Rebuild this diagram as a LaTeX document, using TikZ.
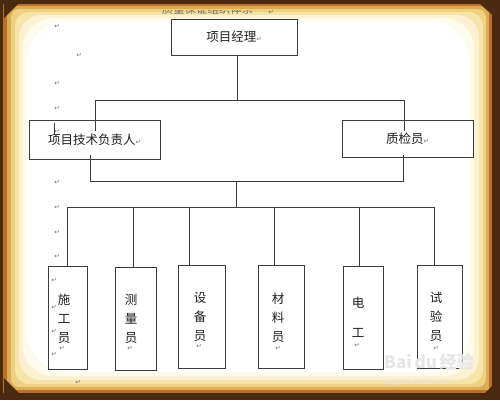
\documentclass[tikz,border=0pt]{standalone}
\usepackage{fontspec}
\setmainfont{Noto Sans CJK SC}
\newfontfamily\symfont{DejaVu Sans}
\definecolor{framedark}{HTML}{4A2A10}
\definecolor{frameorange}{HTML}{B8702A}
\definecolor{framegold}{HTML}{DDAA55}
\definecolor{frameyel}{HTML}{EFCF80}
\definecolor{framelt}{HTML}{F7E4A8}
\definecolor{framecream}{HTML}{FCF2D2}
\definecolor{frameivory}{HTML}{FEFAEC}
\definecolor{linegray}{HTML}{3C3C3C}
\definecolor{pmgray}{HTML}{707070}
\definecolor{txt}{HTML}{1E1E1E}
\definecolor{wmark}{HTML}{E6E6E6}
\newcommand\pmk{{\symfont\fontsize{6.5}{6.5}\selectfont\textcolor{pmgray}{↵}}}
\begin{document}
\begin{tikzpicture}[x=1pt,y=-1pt,
  box/.style={draw=linegray,line width=0.9pt,fill=white,inner sep=0pt,text=txt,font=\fontsize{12.5}{14}\selectfont},
  conn/.style={draw=linegray,line width=0.9pt},
  pmark/.style={inner sep=0pt,font=\symfont\fontsize{6.5}{6.5}\selectfont,text=pmgray},
  vtext/.style={inner sep=0pt,align=center,text=txt,font=\fontsize{12.5}{19}\selectfont},
  wm/.style={inner sep=0pt,text=wmark}]
\useasboundingbox (0,0) rectangle (500,400);
% parchment frame
\fill[framedark] (0,0) rectangle (500,400);
\fill[frameorange] (3,4) rectangle (492,393);
\fill[framegold] (7,6) rectangle (489,390);
\fill[frameyel,rounded corners=8] (11,9) rectangle (486,387);
\fill[framelt,rounded corners=14] (15,12) rectangle (483,384);
\fill[framecream,rounded corners=22] (19,15) rectangle (479,380);
\fill[frameivory,rounded corners=30] (23,18) rectangle (474,376);
\fill[white,rounded corners=38] (28,21) rectangle (469,372);
% corner ornaments
\fill[framedark] (4,378) -- (20,394) -- (4,394) -- cycle;
\fill[framedark] (480,4) -- (496,4) -- (496,18) -- cycle;
\fill[framedark] (482,396) -- (496,382) -- (496,396) -- cycle;
\fill[framedark] (4,4) -- (18,4) -- (4,18) -- cycle;
% clipped title
\begin{scope}
  \clip (150,10) rectangle (300,22);
  \node[inner sep=0pt,text=pmgray,font=\fontsize{11.4}{12}\selectfont] (title) at (207.5,9) {质量保证组织体系};
\end{scope}
\node[pmark] (pt) at (271,12) {↵};
% paragraph marks in the margin (outside boxes)
\foreach \i/\x/\y in {a/57/26,b/79/55,c/57/83,d/57/108,f/57/157,g/57/182,h/57/207,k/57/232,l/57/256,q/78/382}
  \node[pmark] (pm\i) at (\x,\y) {↵};
% upper boxes
\node[box,minimum width=126,minimum height=36] (pm) at (234,37) {项目经理\pmk};
\node[box,minimum width=131,minimum height=39] (tech) at (94.5,139.5) {项目技术负责人\pmk};
\node[box,minimum width=131,minimum height=37] (qc) at (407.5,138.5) {质检员\pmk};
% lower boxes
\node[box,minimum width=39,minimum height=103] (b1) at (68.2,317.5) {};
\node[box,minimum width=41.4,minimum height=103] (b2) at (136,318.5) {};
\node[box,minimum width=47.4,minimum height=103] (b3) at (202,316.8) {};
\node[box,minimum width=46,minimum height=103] (b4) at (281.3,316.8) {};
\node[box,minimum width=40,minimum height=103] (b5) at (363.3,317.5) {};
\node[box,minimum width=45,minimum height=103] (b6) at (439.5,316.7) {};
% margin marks that sit inside boxes
\node[pmark] (pme) at (57,131) {↵};
\foreach \i/\y in {m/280,n/307,o/331,p/354}
  \node[pmark] (pm\i) at (54,\y) {↵};
\draw[linegray,line width=0.5pt] (54,123) -- (54,134);
% texts of lower boxes
\node[vtext] (t1) at (64,319) {施\\工\\员};
\node[vtext] (t2) at (131,319) {测\\量\\员};
\node[vtext] (t3) at (200,316.5) {设\\备\\员};
\node[vtext] (t4) at (278,317.5) {材\\料\\员};
\node[vtext] (t5) at (358,317) {电\\[11pt]工};
\node[vtext] (t6) at (436,316.5) {试\\验\\员};
\foreach \n/\x/\y in {1/62/348,2/130/348,3/199/346,4/278/348,5/357/345,6/436/348}
  \node[pmark] (e\n) at (\x,\y) {↵};
% junction coordinates
\coordinate (j0) at (237,100);
\coordinate (jl) at (95,100);
\coordinate (jr) at (404,100);
\coordinate (jle) at (95,131);
\coordinate (jre) at (404,131);
\coordinate (ul) at (90.7,155);
\coordinate (ur) at (403,155);
\coordinate (ml) at (90.7,181);
\coordinate (mr) at (403,181);
\coordinate (mc) at (236,181);
\coordinate (bc) at (236,207);
\coordinate (v1) at (67,207);
\coordinate (v2) at (133,207);
\coordinate (v3) at (189.5,207);
\coordinate (v4) at (274,207);
\coordinate (v5) at (359,207);
\coordinate (v6) at (434,207);
% connectors
\draw[conn] (j0 |- pm.south) -- (j0);
\draw[conn] (jl) -- (jr);
\draw[conn] (jl) -- (jle);
\draw[conn] (jr) -- (jre);
\draw[conn] (ul) -- (ml) -- (mr) -- (ur);
\draw[conn] (mc) -- (bc);
\draw[conn] (v1) -- (v6);
\draw[conn] (v1) -- (v1 |- b1.north);
\draw[conn] (v2) -- (v2 |- b2.north);
\draw[conn] (v3) -- (v3 |- b3.north);
\draw[conn] (v4) -- (v4 |- b4.north);
\draw[conn] (v5) -- (v5 |- b5.north);
\draw[conn] (v6) -- (v6 |- b6.north);
% watermark
\node[wm,font=\fontsize{17}{17}\selectfont\bfseries,anchor=west] (wm1) at (384,362) {Bai\,du\,经验};
\node[wm,font=\fontsize{8}{8}\selectfont,anchor=west] (wm2) at (384,381) {jingyan.baidu.com};
\end{tikzpicture}
\end{document}
